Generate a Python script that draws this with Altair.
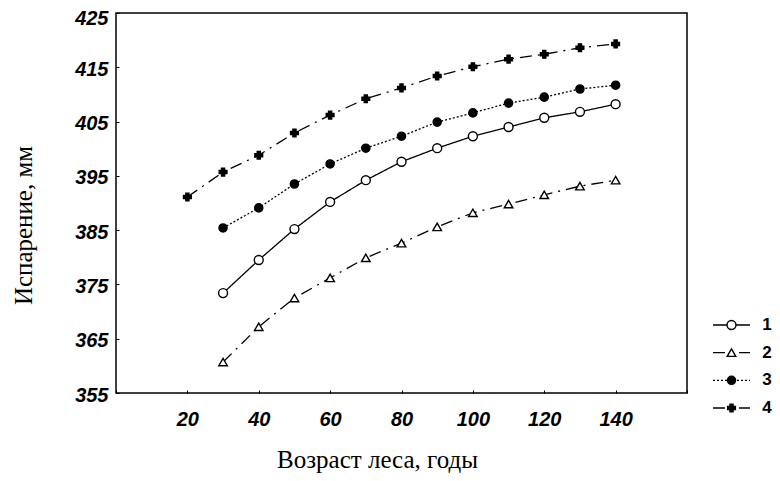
import altair as alt
import pandas as pd

# ---- data ----
ages_4 = [20, 30, 40, 50, 60, 70, 80, 90, 100, 110, 120, 130, 140]
ages = [30, 40, 50, 60, 70, 80, 90, 100, 110, 120, 130, 140]
s1 = [373.4, 379.5, 385.2, 390.2, 394.2, 397.6, 400.1, 402.3, 404.0, 405.7, 406.8, 408.2]
s2 = [360.7, 367.2, 372.5, 376.2, 379.9, 382.6, 385.6, 388.2, 389.8, 391.5, 393.1, 394.2]
s3 = [385.4, 389.1, 393.5, 397.2, 400.1, 402.3, 404.9, 406.6, 408.4, 409.5, 411.0, 411.7]
s4 = [391.1, 395.7, 398.8, 402.9, 406.2, 409.2, 411.2, 413.4, 415.1, 416.5, 417.4, 418.6, 419.3]
series_names = ["1", "2", "3", "4"]
x_ticks = [0, 10, 20, 30, 40, 50, 60, 70, 80, 90, 100, 110, 120, 130, 140, 150, 160]
y_ticks = [355, 365, 375, 385, 395, 405, 415, 425]
legend_pos = [0.0, 0.5, 1.0]  # left end, marker, right end of legend sample

rows = []
for name, xs, ys in [("1", ages, s1), ("2", ages, s2), ("3", ages, s3), ("4", ages_4, s4)]:
    for a, v in zip(xs, ys):
        rows.append({"age": a, "evap": v, "series": name})
df = pd.DataFrame(rows)

leg_rows = []
for name in series_names:
    for p in legend_pos:
        leg_rows.append({"lx": p, "series": name})
leg = pd.DataFrame(leg_rows)

# ---- styling scales ----
dash_scale = alt.Scale(domain=series_names, range=[[1, 0], [12, 6, 2, 6], [2, 2], [12, 6, 2, 6]])
shape_scale = alt.Scale(domain=series_names, range=["circle", "triangle-up", "circle", "cross"])
fill_scale = alt.Scale(domain=series_names, range=["white", "white", "black", "black"])
size_scale = alt.Scale(domain=series_names, range=[80, 60, 50, 90])

tick_font = dict(labelFont="Liberation Sans", labelFontSize=20, labelFontWeight="bold",
                 labelFontStyle="italic", labelColor="black")

x_enc = alt.X("age:Q", scale=alt.Scale(domain=[0, 160], nice=False, zero=False),
              axis=alt.Axis(values=x_ticks, grid=False, domain=False,
                            tickSize={"expr": "-3"}, tickColor="black", tickWidth=1,
                            labelPadding=19,
                            labelExpr="(datum.value >= 20 && datum.value <= 140 && datum.value % 20 == 0) ? datum.label : ''",
                            title="Возраст леса, годы", titleFont="Liberation Serif",
                            titleFontSize=25, titleFontWeight="normal", titleColor="black",
                            titleX=261, titleY=74, titleBaseline="alphabetic", titleAlign="center",
                            **tick_font))
y_enc = alt.Y("evap:Q", scale=alt.Scale(domain=[355, 425], nice=False, zero=False),
              axis=alt.Axis(values=y_ticks, grid=False, domain=False,
                            tickSize={"expr": "-3"}, tickColor="black", tickWidth=1,
                            labelPadding=11,
                            labelOffset={"condition": {"test": "datum.value == 425", "value": 5}, "value": 2},
                            title="Испарение, мм", titleFont="Liberation Serif",
                            titleFontSize=25, titleFontWeight="normal", titleColor="black",
                            titleX=-85, titleY=212, titleAngle=270, titleBaseline="alphabetic",
                            titleAlign="center",
                            **tick_font))

lines = alt.Chart(df).mark_line(color="black", strokeWidth=1.3).encode(
    x=x_enc, y=y_enc,
    strokeDash=alt.StrokeDash("series:N", scale=dash_scale, legend=None),
    detail="series:N",
)
points = alt.Chart(df).mark_point(filled=True, stroke="black", strokeWidth=1.4, opacity=1).encode(
    x="age:Q", y="evap:Q",
    shape=alt.Shape("series:N", scale=shape_scale, legend=None),
    fill=alt.Fill("series:N", scale=fill_scale, legend=None),
    size=alt.Size("series:N", scale=size_scale, legend=None),
)
main = alt.layer(lines, points)

# ---- legend drawn at the right of the plot ----
lx = alt.X("lx:Q", scale=alt.Scale(domain=[0, 1], range=[597, 634], nice=False, zero=False), axis=None)
ly = alt.Y("series:O", scale=alt.Scale(domain=series_names, range=[312, 395], padding=0), axis=None)

leg_lines = alt.Chart(leg).mark_line(color="black", strokeWidth=1.3).encode(
    x=lx, y=ly,
    strokeDash=alt.StrokeDash("series:N", scale=dash_scale, legend=None),
    detail="series:N",
)
leg_points = alt.Chart(leg).transform_filter("datum.lx == 0.5").mark_point(
    filled=True, stroke="black", strokeWidth=1.4, opacity=1).encode(
    x="lx:Q", y="series:O",
    shape=alt.Shape("series:N", scale=shape_scale, legend=None),
    fill=alt.Fill("series:N", scale=fill_scale, legend=None),
    size=alt.Size("series:N", scale=size_scale, legend=None),
)
leg_text = alt.Chart(leg).transform_filter("datum.lx == 1").mark_text(
    font="Liberation Sans", fontSize=17, fontWeight="bold", color="black",
    align="center", baseline="middle", dx=17).encode(
    x="lx:Q", y="series:O", text="series:N",
)
legend_layer = alt.layer(leg_lines, leg_points, leg_text)

chart = alt.layer(main, legend_layer).resolve_scale(
    x="independent", y="independent"
).properties(
    width=571, height=380,
    autosize=alt.AutoSizeParams(type="none"),
    padding={"left": 108, "top": 5, "right": 85, "bottom": 80},
).configure_view(
    stroke="black", strokeWidth=1.5
)

chart.save("out.html", embed_options={"renderer": "svg", "actions": False})
